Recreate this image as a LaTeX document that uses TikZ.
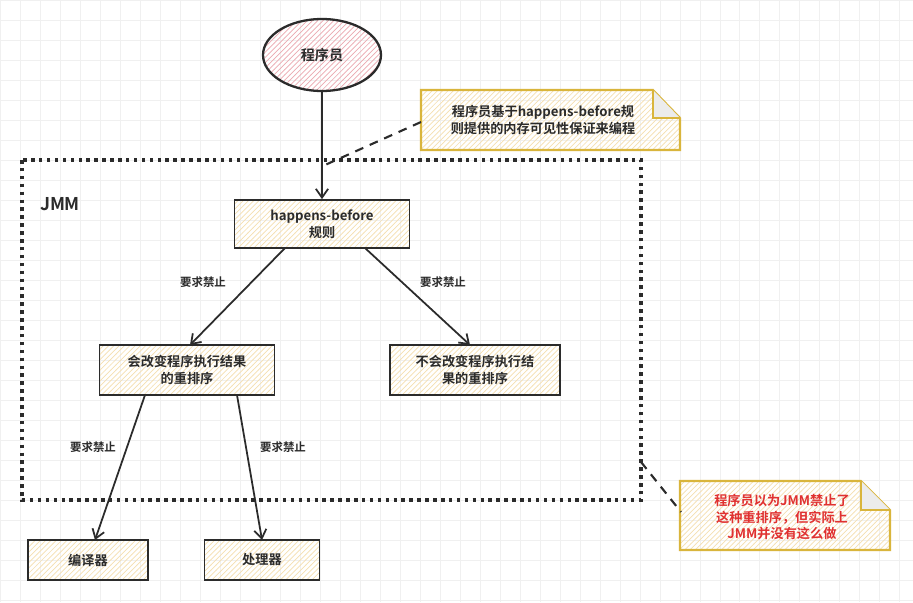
\documentclass[tikz,border=0pt]{standalone}
\usepackage{fontspec}
\setmainfont{Noto Sans CJK SC}[BoldFont={Noto Sans CJK SC Bold}]
\usetikzlibrary{shapes.geometric,patterns,arrows.meta}
\definecolor{ink}{HTML}{2B2B2B}
\definecolor{notey}{HTML}{D9B53C}
\definecolor{hatchy}{HTML}{F5DFB0}
\definecolor{hatchp}{HTML}{EBA9B0}
\definecolor{redt}{HTML}{E03131}
\begin{document}
\begin{tikzpicture}[x=0.02cm,y=-0.02cm,
  every node/.style={font=\fontsize{7.5}{9.5}\selectfont\bfseries, text=ink},
  box/.style={draw=ink, line width=1pt, align=center, inner sep=0pt, pattern={north east lines}, pattern color=hatchy},
  note/.style={align=center},
  arr/.style={draw=ink, line width=1pt, -{Straight Barb[length=5pt,width=7pt]}},
  lbl/.style={font=\fontsize{6.5}{8}\selectfont\bfseries}]
\useasboundingbox (0,0) rectangle (913,602);
\fill[white] (0,0) rectangle (913,602);
\draw[gray!12, step=0.4cm] (0,0) grid (913,602);
% JMM frame
\draw[ink, line width=1.8pt, dash pattern=on 2pt off 2.5pt] (22,160) rectangle (641,500);
\node[font=\fontsize{10}{12}\selectfont\bfseries] (jmm) at (60,204) {JMM};
% programmer
\node[ellipse, draw=ink, line width=1.3pt, minimum width=118\pgflinewidth, pattern={north east lines}, pattern color=hatchp, minimum width=2.36cm, minimum height=1.44cm] (p) at (322,55) {\fontsize{8}{10}\selectfont 程序员};
% boxes
\node[box, minimum width=3.5cm, minimum height=0.96cm] (hb) at (322,224) {happens-before\\规则};
\node[box, minimum width=3.5cm, minimum height=1.0cm] (a) at (187,370) {会改变程序执行结果\\的重排序};
\node[box, minimum width=3.4cm, minimum height=1.0cm] (b) at (475,370) {不会改变程序执行结\\果的重排序};
\node[box, minimum width=2.4cm, minimum height=0.8cm] (c) at (88,560) {编译器};
\node[box, minimum width=2.3cm, minimum height=0.8cm] (d) at (262,560) {处理器};
% arrows
\draw[arr] (p.south) -- (hb.north);
\coordinate (hb1) at (285,248); \coordinate (a1) at (190,345);
\coordinate (hb2) at (365,248); \coordinate (b1) at (470,345);
\draw[arr] (hb1) -- (a1);
\draw[arr] (hb2) -- (b1);
\coordinate (a2) at (145,395); \coordinate (c1) at (95,540);
\coordinate (a3) at (237,395); \coordinate (d1) at (262,540);
\draw[arr] (a2) -- (c1);
\draw[arr] (a3) -- (d1);
\node[lbl] (l1) at (203,282) {要求禁止};
\node[lbl] (l2) at (443,282) {要求禁止};
\node[lbl] (l3) at (93,447) {要求禁止};
\node[lbl] (l4) at (283,447) {要求禁止};
% note 1
\fill[pattern={north east lines}, pattern color=hatchy] (421,90) -- (653,90) -- (680,118) -- (680,150) -- (421,150) -- cycle;
\draw[notey, line width=1.2pt] (421,90) -- (653,90) -- (680,118) -- (680,150) -- (421,150) -- cycle;
\fill[gray!15] (653,90) -- (680,118) -- (653,118) -- cycle;
\draw[notey, line width=1pt] (653,90) -- (653,118) -- (680,118);
\node[note] (n1) at (543,120) {程序员基于happens-before规\\则提供的内存可见性保证来编程};
\coordinate (n1e) at (421,122); \coordinate (f1) at (325,165);
\draw[ink, line width=1.2pt, dash pattern=on 5pt off 4pt] (n1e) -- (f1);
% note 2
\fill[pattern={north east lines}, pattern color=hatchy] (680,481) -- (861,481) -- (890,510) -- (890,550) -- (680,550) -- cycle;
\draw[notey, line width=1.2pt] (680,481) -- (861,481) -- (890,510) -- (890,550) -- (680,550) -- cycle;
\fill[gray!15] (861,481) -- (890,510) -- (861,510) -- cycle;
\draw[notey, line width=1pt] (861,481) -- (861,510) -- (890,510);
\node[note, text=redt] (n2) at (782,517) {程序员以为JMM禁止了\\这种重排序，但实际上\\JMM并没有这么做};
\coordinate (f2) at (641,462); \coordinate (n2e) at (681,512);
\draw[ink, line width=1.2pt, dash pattern=on 5pt off 4pt] (f2) -- (n2e);
\end{tikzpicture}
\end{document}
